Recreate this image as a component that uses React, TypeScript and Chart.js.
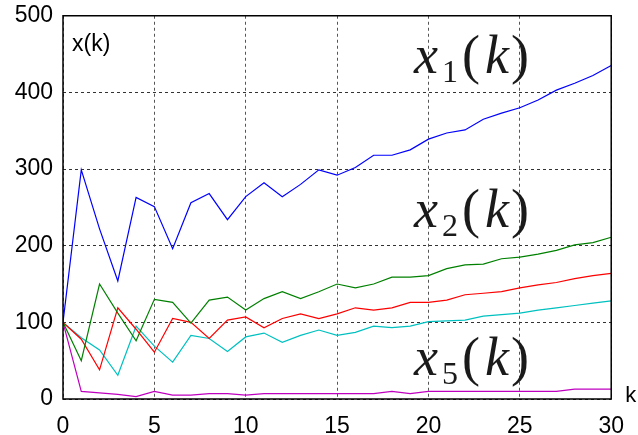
import React, { useEffect, useRef } from "react";
import { Chart, registerables } from "chart.js";

Chart.register(...registerables);

const steps: number[] = Array.from({ length: 31 }, (_, i) => i);
const x1Values = [100, 299, 222, 154, 263, 251, 196, 256, 268, 234, 264, 282, 264, 280, 299, 292, 302, 318, 318, 325, 339, 347, 351, 365, 373, 380, 390, 403, 412, 422, 435];
const x2Values = [100, 50, 150, 112, 76, 130, 126, 99, 129, 133, 116, 131, 140, 131, 140, 150, 145, 150, 159, 159, 161, 170, 175, 176, 183, 185, 189, 194, 201, 204, 211];
const x3Values = [100, 78, 38, 119, 91, 61, 105, 100, 79, 103, 107, 93, 105, 111, 105, 111, 119, 116, 119, 126, 126, 129, 136, 138, 140, 145, 149, 152, 157, 161, 164];
const x4Values = [100, 80, 64, 31, 95, 69, 48, 83, 79, 62, 81, 86, 74, 83, 90, 83, 87, 95, 93, 95, 101, 102, 103, 108, 110, 112, 116, 119, 122, 125, 128];
const x5Values = [100, 10, 8, 6, 3, 10, 5, 5, 7, 7, 5, 7, 7, 7, 7, 7, 7, 7, 10, 7, 10, 10, 10, 10, 10, 10, 10, 10, 13, 13, 13];

const seriesColors = ["#0000ff", "#008000", "#ff0000", "#00c0c0", "#c000c0"];
const seriesNames = ["x1", "x2", "x3", "x4", "x5"];
const seriesValues = [x1Values, x2Values, x3Values, x4Values, x5Values];

const mathLabels = ["1", "2", "5"];

const overlayPlugin = {
  id: "overlay",
  afterDraw(chart: any) {
    const { ctx, chartArea } = chart;
    const { left, right, top, bottom } = chartArea;
    ctx.save();
    ctx.strokeStyle = "#000";
    ctx.lineWidth = 1.5;
    ctx.setLineDash([]);
    ctx.strokeRect(left, top, right - left, bottom - top);

    ctx.fillStyle = "#000";
    ctx.textAlign = "left";
    ctx.textBaseline = "alphabetic";
    ctx.font = "23px 'Liberation Sans', Arial, sans-serif";
    ctx.fillText("x(k)", left + 9, top + 35);
    ctx.font = "22px 'Liberation Sans', Arial, sans-serif";
    ctx.fillText("k", right + 14, bottom + 3);

    const baselines = [73, 227, 375];
    const serif = "'Liberation Serif', 'DejaVu Serif', serif";
    mathLabels.forEach((sub, i) => {
      const base = baselines[i];
      ctx.fillStyle = "#1a1a1a";
      ctx.font = "italic 54px " + serif;
      ctx.fillText("x", 414, base);
      ctx.font = "32px " + serif;
      ctx.fillText(sub, 442, base + 9);
      ctx.font = "54px " + serif;
      ctx.fillText("(", 462, base);
      const closeW = ctx.measureText(")").width;
      ctx.fillText(")", 529 - closeW, base);
      ctx.font = "italic 54px " + serif;
      const kW = ctx.measureText("k").width;
      ctx.fillText("k", 497 - kW / 2, base);
    });
    ctx.restore();
  },
};

export default function App() {
  const canvasRef = useRef<HTMLCanvasElement | null>(null);

  useEffect(() => {
    if (!canvasRef.current) return;
    const chart = new Chart(canvasRef.current, {
      type: "line",
      data: {
        datasets: seriesValues.map((vals, i) => ({
          label: seriesNames[i],
          data: vals.map((v, k) => ({ x: steps[k], y: v })),
          borderColor: seriesColors[i],
          backgroundColor: seriesColors[i],
          borderWidth: 1.2,
          pointRadius: 0,
          tension: 0,
          fill: false,
        })),
      },
      options: {
        responsive: false,
        animation: false,
        layout: { padding: { top: 14, right: 25, left: 0, bottom: 0 } },
        plugins: { legend: { display: false }, tooltip: { enabled: false } },
        scales: {
          x: {
            type: "linear",
            min: 0,
            max: 30,
            afterFit: (s: any) => {
              s.height = 36;
            },
            ticks: {
              stepSize: 5,
              color: "#000",
              padding: 14,
              font: { family: "'Liberation Sans', Arial, sans-serif", size: 23 },
            },
            grid: { color: "#555", lineWidth: 1, drawTicks: false },
            border: { display: false, dash: [3, 3] },
          },
          y: {
            type: "linear",
            min: 0,
            max: 500,
            afterFit: (s: any) => {
              s.width = 63;
            },
            ticks: {
              stepSize: 100,
              color: "#000",
              padding: 10,
              font: { family: "'Liberation Sans', Arial, sans-serif", size: 23, lineHeight: 0.5 },
            },
            grid: { color: "#333", lineWidth: 1, drawTicks: false },
            border: { display: false, dash: [3, 3] },
          },
        },
      },
      plugins: [overlayPlugin],
    });
    return () => chart.destroy();
  }, []);

  return (
    <div style={{ position: "absolute", left: 0, top: 0, width: 638, height: 435, background: "#fff" }}>
      <canvas ref={canvasRef} width={638} height={435} style={{ display: "block" }} />
    </div>
  );
}
